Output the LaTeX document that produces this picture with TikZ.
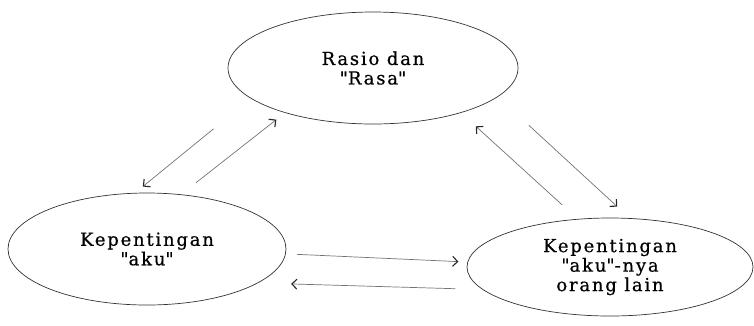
\documentclass[tikz,border=0pt]{standalone}
\usepackage{fontspec}
\setmainfont{DejaVu Serif}[FakeBold=0.6,LetterSpace=10]
\usetikzlibrary{arrows.meta,shapes.geometric}

\begin{document}
\begin{tikzpicture}[
      x=1pt, y=-1pt,
      every node/.style={font=\fontsize{18}{19.5}\selectfont, align=center},
      bubble/.style={draw=black!80, ellipse, line width=0.7pt, inner sep=0pt},
      arrow/.style={-{Straight Barb[length=5pt,width=10pt,line width=1.1pt,color=black!85]}, draw=black!55, line width=0.7pt},
    ]
    \useasboundingbox (0,0) rectangle (754,325);

    % Ellipses
    \node[bubble, minimum width=290pt, minimum height=112pt] (rasio) at (373,68) {Rasio dan\\\textquotedbl Rasa\textquotedbl};
    \node[bubble, minimum width=278pt, minimum height=112pt] (aku) at (147,249) {Kepentingan\\\textquotedbl aku\textquotedbl};
    \node[bubble, minimum width=286pt, minimum height=98pt] (lain) at (610,267) {Kepentingan\\\textquotedbl aku\textquotedbl-nya\\orang lain};

    % Arrows between rasio and aku
    \draw[arrow, shorten <=48pt, shorten >=10pt] (rasio.194) -- (aku.102);
    \draw[arrow, shorten <=19pt, shorten >=11pt] (aku.58) -- (rasio.207);

    % Arrows between rasio and lain
    \draw[arrow, shorten <=21pt, shorten >=20pt] (lain.124) -- (rasio.333);
    \draw[arrow, shorten <=42pt, shorten >=17pt] (rasio.347) -- (lain.68);

    % Arrows between aku and lain
    \draw[arrow, shorten <=11pt, shorten >=9pt] (aku.358) -- (lain.178);
    \draw[arrow, shorten <=27pt, shorten >=33pt] (lain.190) -- (aku.343);
  \end{tikzpicture}
\end{document}
